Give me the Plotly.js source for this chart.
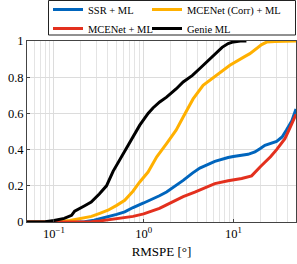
<!DOCTYPE html>
<html>
<head>
<meta charset="utf-8">
<script src="https://cdn.plot.ly/plotly-3.0.1.min.js"></script>
<style>html,body{margin:0;padding:0;background:#fff;}#chart{width:297px;height:264px;}</style>
</head>
<body>
<div id="chart"></div>
<script>
// Series names
const seriesNames = ["SSR + ML", "MCENet (Corr) + ML", "MCENet + ML", "Genie ML"];

// SSR + ML
const ssrX = [0.05, 0.15, 0.22, 0.28, 0.324, 0.4, 0.5, 0.615, 0.762, 1.0, 1.17, 1.5, 1.8, 2.3, 2.76, 3.5, 4.23, 4.81, 6.22, 8.75, 10, 14.6, 17.4, 19.8, 22.5, 30.4, 35, 39, 45, 50];
const ssrY = [0, 0, 0.002, 0.01, 0.017, 0.027, 0.042, 0.056, 0.08, 0.105, 0.12, 0.145, 0.166, 0.2, 0.23, 0.27, 0.298, 0.31, 0.335, 0.356, 0.362, 0.374, 0.387, 0.405, 0.424, 0.445, 0.47, 0.507, 0.56, 0.625];

// MCENet (Corr) + ML
const corrX = [0.05, 0.08, 0.11, 0.15, 0.2, 0.262, 0.324, 0.4, 0.5, 0.615, 0.76, 0.9, 1.12, 1.4, 1.8, 2.3, 2.76, 3.56, 4.6, 5.7, 6.5, 9.15, 13.5, 15.3, 20.7, 23.5, 29, 50];
const corrY = [0, 0, 0.002, 0.008, 0.018, 0.031, 0.048, 0.065, 0.092, 0.12, 0.17, 0.22, 0.276, 0.36, 0.433, 0.507, 0.58, 0.68, 0.755, 0.79, 0.81, 0.866, 0.915, 0.93, 0.98, 0.994, 0.997, 1.0];

// MCENet + ML
const mceX = [0.05, 0.2, 0.262, 0.324, 0.4, 0.497, 0.615, 0.762, 1.0, 1.17, 1.5, 1.8, 2.3, 2.76, 3.72, 4.81, 6.22, 8.75, 12.4, 16, 17.4, 20, 22.5, 26, 30.4, 37.6, 42.8, 50];
const mceY = [0, 0, 0.002, 0.006, 0.012, 0.019, 0.025, 0.031, 0.045, 0.055, 0.075, 0.095, 0.12, 0.14, 0.165, 0.19, 0.212, 0.228, 0.24, 0.255, 0.275, 0.305, 0.33, 0.36, 0.40, 0.46, 0.52, 0.595];

// Genie ML
const genieX = [0.05, 0.08, 0.1, 0.13, 0.157, 0.17, 0.22, 0.26, 0.32, 0.385, 0.456, 0.55, 0.643, 0.76, 0.905, 1.0, 1.12, 1.27, 1.51, 1.8, 2.3, 2.76, 3.5, 4.23, 5.2, 6.5, 7.5, 8.75, 10, 12, 14];
const genieY = [0, 0.002, 0.008, 0.02, 0.037, 0.06, 0.09, 0.11, 0.155, 0.2, 0.28, 0.35, 0.414, 0.475, 0.535, 0.565, 0.6, 0.63, 0.663, 0.69, 0.735, 0.774, 0.81, 0.848, 0.89, 0.94, 0.965, 0.986, 0.995, 1, 1];

// Axis ticks
const xTickVals = [0.1, 1, 10];
const xTickText = ["10<sup>−1</sup>", "10<sup>0</sup>", "10<sup>1</sup>"];
const xMinorVals = [0.06, 0.07, 0.08, 0.09, 0.2, 0.3, 0.4, 0.5, 0.6, 0.7, 0.8, 0.9, 2, 3, 4, 5, 6, 7, 8, 9, 20, 30, 40];
const yTickVals = [0, 0.2, 0.4, 0.6, 0.8, 1];
const yTickText = ["0", "0.2", "0.4", "0.6", "0.8", "1"];

const colors = ["#0065BD", "#FFB000", "#E3301E", "#000000"];
const font = "Liberation Serif, Times New Roman, serif";

// Two legend columns: left column = legend, right column = legend2
const traces = [
  {x: ssrX, y: ssrY, name: seriesNames[0], color: colors[0], legend: "legend", rank: 1},
  {x: corrX, y: corrY, name: seriesNames[1], color: colors[1], legend: "legend2", rank: 1},
  {x: mceX, y: mceY, name: seriesNames[2], color: colors[2], legend: "legend", rank: 2},
  {x: genieX, y: genieY, name: seriesNames[3], color: colors[3], legend: "legend2", rank: 2}
].map(t => ({
  x: t.x, y: t.y, name: t.name, type: "scatter", mode: "lines",
  legend: t.legend, legendrank: t.rank,
  line: {color: t.color, width: 3}
}));

// plot area geometry in px (for paper-coordinate conversion of legend box)
const W = 297, H = 264, mL = 27, mR = 1, mT = 41, mB = 42;
const pw = W - mL - mR, ph = H - mT - mB;
const px2x = px => (px - mL) / pw;
const py2y = py => (H - mB - py) / ph;

const legendCommon = {
  orientation: "v", yanchor: "top", xanchor: "left",
  bgcolor: "rgba(0,0,0,0)", borderwidth: 0,
  font: {family: font, size: 10.5, color: "#000"},
  itemwidth: 30, tracegroupgap: 0, traceorder: "normal"
};

const layout = {
  width: W, height: H,
  margin: {l: mL, r: mR, t: mT, b: mB, autoexpand: false},
  paper_bgcolor: "#fff", plot_bgcolor: "#fff",
  font: {family: font, size: 12, color: "#000"},
  showlegend: true,
  legend: Object.assign({}, legendCommon, {x: px2x(48), y: py2y(-5)}),
  legend2: Object.assign({}, legendCommon, {x: px2x(147), y: py2y(-5)}),
  shapes: [{
    type: "rect", xref: "paper", yref: "paper",
    x0: px2x(48.5), x1: px2x(295.5), y0: py2y(35), y1: py2y(0.5),
    line: {color: "#222", width: 1}, fillcolor: "rgba(0,0,0,0)", layer: "above"
  }],
  xaxis: {
    type: "log", range: [Math.log10(0.05), Math.log10(50)],
    tickvals: xTickVals, ticktext: xTickText,
    showgrid: true, gridcolor: "#dcdcdc", gridwidth: 1,
    minor: {tickvals: xMinorVals, showgrid: true, gridcolor: "#e4e4e4", gridwidth: 1, ticks: ""},
    ticks: "inside", ticklen: 3, tickcolor: "#444",
    showline: true, linecolor: "#444", linewidth: 1, mirror: true,
    zeroline: false,
    tickfont: {family: font, size: 12.5},
    title: {text: "RMSPE [°]", font: {family: font, size: 13}, standoff: 6}
  },
  yaxis: {
    range: [0, 1], tickvals: yTickVals, ticktext: yTickText,
    showgrid: true, gridcolor: "#dcdcdc", gridwidth: 1,
    ticks: "inside", ticklen: 3, tickcolor: "#444",
    showline: true, linecolor: "#444", linewidth: 1, mirror: true,
    zeroline: false,
    tickfont: {family: font, size: 12.5}
  }
};

Plotly.newPlot("chart", traces, layout, {displayModeBar: false, staticPlot: true});
</script>
</body>
</html>
